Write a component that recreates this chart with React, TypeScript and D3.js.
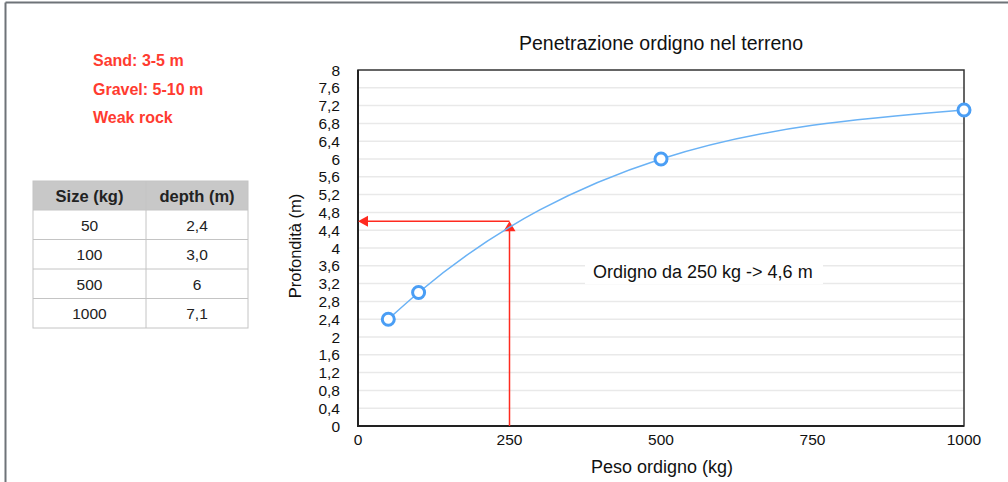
import * as d3 from 'd3';
import React from 'react';

const weights = [50, 100, 500, 1000];
const depths = [2.4, 3.0, 6, 7.1];
const depthLabels = ['2,4', '3,0', '6', '7,1'];
const yTicks = d3.range(0, 21).map((i) => i * 0.4);
const xTicks = [0, 250, 500, 750, 1000];
const notes = ['Sand: 3-5 m', 'Gravel: 5-10 m', 'Weak rock'];
const target = { weight: 250, depth: 4.6 };

const W = 1008;
const H = 482;
const plot = { left: 358, right: 964, top: 70, bottom: 426 };
const font = '"Liberation Sans", Arial, sans-serif';

const fmt = (v: number) => {
  const r = Math.round(v * 10) / 10;
  return String(r).replace('.', ',');
};

export default function App() {
  const x = d3.scaleLinear().domain([0, 1000]).range([plot.left, plot.right]);
  const y = d3.scaleLinear().domain([0, 8]).range([plot.bottom, plot.top]);

  const pts = weights.map((w, i) => [w, depths[i]] as [number, number]);
  const line = d3
    .line<[number, number]>()
    .x((d) => x(d[0]))
    .y((d) => y(d[1]))
    .curve(d3.curveMonotoneX);

  const tx = x(target.weight);
  const ty = y(target.depth);

  // table layout
  const tab = { x0: 33, x1: 146, x2: 248, top: 181, head: 29, row: 29.5 };

  return (
    <svg width={W} height={H} style={{ position: 'absolute', left: 0, top: 0 }} fontFamily={font}>
      <rect x={0} y={0} width={W} height={H} fill="#fff" />
      {/* page border */}
      <line x1={5.5} y1={2.5} x2={W} y2={2.5} stroke="#6e7378" strokeWidth={2} />
      <line x1={5.5} y1={2.5} x2={5.5} y2={H} stroke="#6e7378" strokeWidth={2} />

      {/* notes */}
      {notes.map((n, i) => (
        <text key={n} x={93} y={66 + i * 28.5} fill="#ff3b30" fontSize={16} fontWeight="bold">
          {n}
        </text>
      ))}

      {/* table */}
      <rect x={tab.x0} y={tab.top} width={tab.x2 - tab.x0} height={tab.head} fill="#c8c8c8" />
      <text x={(tab.x0 + tab.x1) / 2} y={tab.top + 20.5} textAnchor="middle" fontSize={16.5} fontWeight="bold" fill="#222">
        Size (kg)
      </text>
      <text x={(tab.x1 + tab.x2) / 2} y={tab.top + 20.5} textAnchor="middle" fontSize={16.5} fontWeight="bold" fill="#222">
        depth (m)
      </text>
      {weights.map((w, i) => {
        const ry = tab.top + tab.head + i * tab.row;
        return (
          <g key={w}>
            <text x={(tab.x0 + tab.x1) / 2} y={ry + 20.5} textAnchor="middle" fontSize={15.5} fill="#222">
              {w}
            </text>
            <text x={(tab.x1 + tab.x2) / 2} y={ry + 20.5} textAnchor="middle" fontSize={15.5} fill="#222">
              {depthLabels[i]}
            </text>
            <line x1={tab.x0} x2={tab.x2} y1={ry} y2={ry} stroke="#c4c4c4" strokeWidth={1} />
          </g>
        );
      })}
      <rect
        x={tab.x0}
        y={tab.top}
        width={tab.x2 - tab.x0}
        height={tab.head + weights.length * tab.row}
        fill="none"
        stroke="#c4c4c4"
        strokeWidth={1}
      />
      <line
        x1={tab.x1}
        x2={tab.x1}
        y1={tab.top}
        y2={tab.top + tab.head + weights.length * tab.row}
        stroke="#c4c4c4"
        strokeWidth={1}
      />

      {/* title */}
      <text x={661} y={50} textAnchor="middle" fontSize={19.5} fill="#111">
        Penetrazione ordigno nel terreno
      </text>

      {/* gridlines */}
      {yTicks.slice(1, -1).map((t) => (
        <line key={t} x1={plot.left} x2={plot.right} y1={y(t)} y2={y(t)} stroke="#e9e9e9" strokeWidth={1.5} />
      ))}

      {/* annotation label with white backdrop */}
      <rect x={585} y={258} width={238} height={26} fill="#fff" />
      <text x={593} y={278} fontSize={18} fill="#111">
        Ordigno da 250 kg -&gt; 4,6 m
      </text>

      {/* frame */}
      <rect
        x={plot.left}
        y={plot.top}
        width={plot.right - plot.left}
        height={plot.bottom - plot.top}
        fill="none"
        stroke="#333"
        strokeWidth={1.5}
      />
      <line x1={plot.left} x2={plot.left} y1={plot.top} y2={plot.bottom + 1} stroke="#222" strokeWidth={2} />
      <line x1={plot.left} x2={plot.right} y1={plot.bottom} y2={plot.bottom} stroke="#222" strokeWidth={2} />

      {/* y ticks */}
      {yTicks.map((t) => (
        <text key={t} x={340} y={y(t) + 5.5} textAnchor="end" fontSize={15.5} fill="#111">
          {fmt(t)}
        </text>
      ))}
      {/* x ticks */}
      {xTicks.map((t) => (
        <text key={t} x={x(t)} y={445} textAnchor="middle" fontSize={15.5} fill="#111">
          {t}
        </text>
      ))}

      <text x={662} y={473} textAnchor="middle" fontSize={18} fill="#111">
        Peso ordigno (kg)
      </text>
      <text
        transform={`translate(301,${(plot.top + plot.bottom) / 2 - 2}) rotate(-90)`}
        textAnchor="middle"
        fontSize={16.5}
        fill="#111"
      >
        Profondità (m)
      </text>

      {/* red guide arrows */}
      <line x1={tx} x2={tx} y1={plot.bottom} y2={ty + 8} stroke="#ff2a1f" strokeWidth={1.5} />
      <path d={`M${tx},${ty} L${tx - 6},${ty + 10} L${tx + 6},${ty + 10} Z`} fill="#ff2a1f" />
      <line x1={tx} x2={plot.left + 8} y1={ty} y2={ty} stroke="#ff2a1f" strokeWidth={1.5} />
      <path d={`M${plot.left},${ty} L${plot.left + 10},${ty - 5.5} L${plot.left + 10},${ty + 5.5} Z`} fill="#ff2a1f" />

      {/* series */}
      <path d={line(pts) || ''} fill="none" stroke="#6ab2f5" strokeWidth={1.5} />
      {pts.map((p) => (
        <circle key={p[0]} cx={x(p[0])} cy={y(p[1])} r={6} fill="#fff" stroke="#4a9ef5" strokeWidth={3} />
      ))}
    </svg>
  );
}
